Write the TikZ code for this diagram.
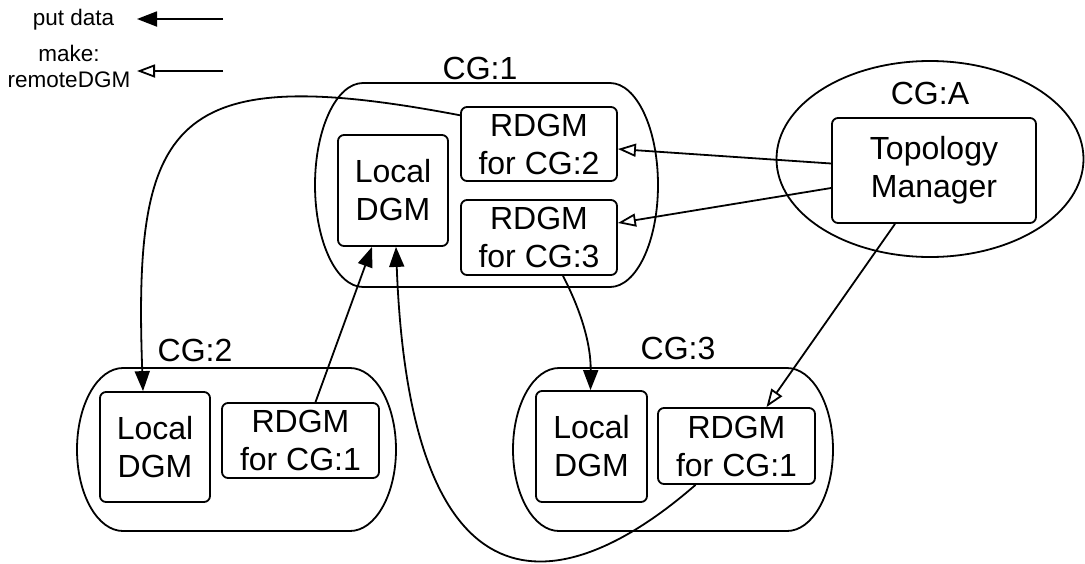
\documentclass[tikz,border=0pt]{standalone}
\usepackage{fontspec}
\setmainfont{Liberation Sans}
\usetikzlibrary{arrows.meta,calc,shapes.geometric}
\newcommand\bigf{\fontsize{32}{38}\selectfont}
\newcommand\smallf{\fontsize{22.5}{26}\selectfont}
\tikzset{
  box/.style={draw, line width=1.8pt, rounded corners=6pt, inner sep=0pt, align=center, font=\bigf},
  cont/.style={draw, line width=1.8pt},
  lbl/.style={font=\bigf, inner sep=0pt},
  leg/.style={font=\smallf, inner sep=0pt, align=center},
  putarr/.style={line width=1.8pt, -{Triangle[length=20pt,width=15pt]}},
  makearr/.style={line width=1.8pt, -{Triangle[open,length=18pt,width=13pt]}},
}
\begin{document}
\begin{tikzpicture}[x=1pt,y=-1pt]
\useasboundingbox (0,0) rectangle (1085,563);
% legend
\node[leg] (legput) at (73.5,20) {put data};
\node[leg] (legmake) at (69,66) {make:\\remoteDGM};
\coordinate (lp1) at (223,19);
\coordinate (lp2) at (137,19);
\coordinate (lm1) at (223,71);
\coordinate (lm2) at (137,71);
\draw[putarr] (lp1) -- (lp2);
\draw[makearr] (lm1) -- (lm2);
% containers
\draw[cont] (363,83) -- (610,83) arc[start angle=-90,end angle=90,x radius=48,y radius=102]
  -- (363,287) arc[start angle=90,end angle=270,x radius=48,y radius=102] -- cycle;
\draw[cont] (123,368) -- (350,368) arc[start angle=-90,end angle=90,x radius=46,y radius=81.5]
  -- (123,531) arc[start angle=90,end angle=270,x radius=46,y radius=81.5] -- cycle;
\draw[cont] (559,368) -- (787,368) arc[start angle=-90,end angle=90,x radius=46,y radius=81.5]
  -- (559,531) arc[start angle=90,end angle=270,x radius=46,y radius=81.5] -- cycle;
\node[draw, ellipse, line width=1.8pt, minimum width=307pt, minimum height=196pt, inner sep=0pt] (cga) at (930,159) {};
% labels
\node[lbl] (lcg1) at (480,68) {CG:1};
\node[lbl] (lcga) at (930,93) {CG:A};
\node[lbl] (lcg2) at (195,350) {CG:2};
\node[lbl] (lcg3) at (678,348) {CG:3};
% boxes
\node[box, minimum width=110pt, minimum height=111pt] (l1) at (393,190.5) {Local\\DGM};
\node[box, minimum width=156pt, minimum height=74pt] (r12) at (539,144) {RDGM\\for CG:2};
\node[box, minimum width=156pt, minimum height=75pt] (r13) at (539,237.5) {RDGM\\for CG:3};
\node[box, minimum width=204pt, minimum height=105pt] (tm) at (934,170.5) {Topology\\Manager};
\node[box, minimum width=110pt, minimum height=110pt] (l2) at (155,447) {Local\\DGM};
\node[box, minimum width=157pt, minimum height=75pt] (r21) at (300.5,440.5) {RDGM\\for CG:1};
\node[box, minimum width=111pt, minimum height=111pt] (l3) at (591.5,446.5) {Local\\DGM};
\node[box, minimum width=157pt, minimum height=76pt] (r31) at (736.5,446) {RDGM\\for CG:1};
% put data connectors
\draw[putarr] (r12.160) .. controls (170,60) and (133,120) .. ($(l2.north)+(-12,0)$);
\draw[putarr] ($(r21.north)+(15,0)$) -- ($(l1.south)+(-21,0)$);
\draw[putarr] ($(r31.south)+(-41,0)$) .. controls (560,603) and (410,622) .. ($(l1.south)+(3,0)$);
\draw[putarr] ($(r13.south)+(24,0)$) .. controls (578,305) and (591,340) .. ($(l3.north)+(-1,0)$);
% make remoteDGM connectors
\draw[makearr] ($(tm.west)+(0,-7)$) -- ($(r12.east)+(0,5)$);
\draw[makearr] ($(tm.west)+(0,17.5)$) -- ($(r13.east)+(0,-14.5)$);
\draw[makearr] ($(tm.south)+(-39,0)$) -- ($(r31.north)+(30,0)$);
\end{tikzpicture}
\end{document}
